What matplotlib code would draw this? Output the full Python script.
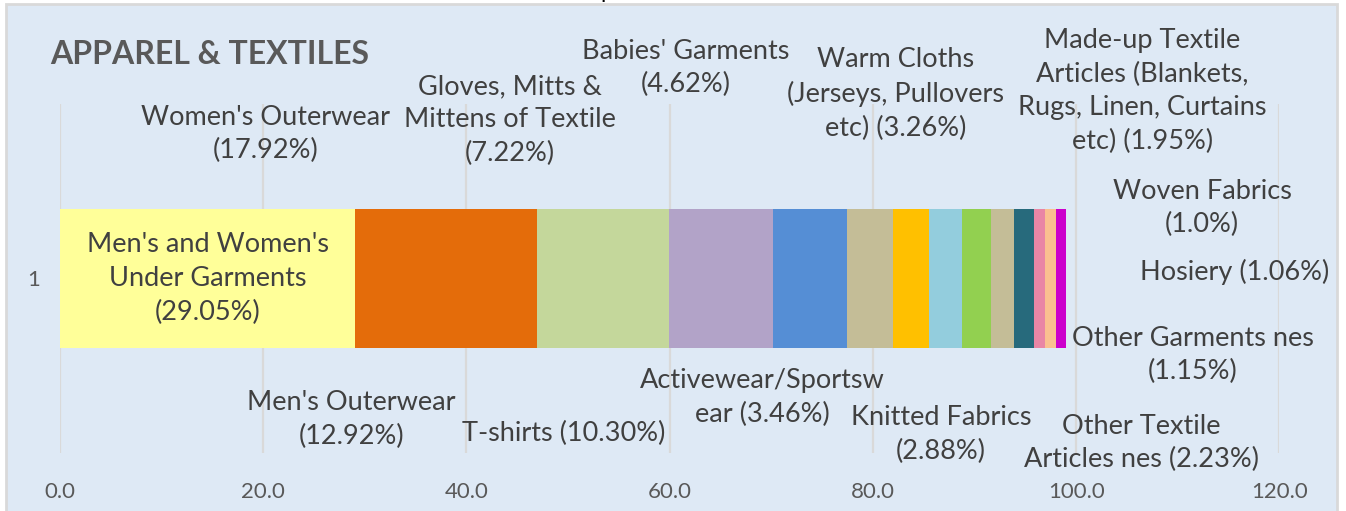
import matplotlib
matplotlib.use("Agg")
import matplotlib.pyplot as plt
from matplotlib.patches import Rectangle
from matplotlib.ticker import FuncFormatter

plt.rcParams['font.family'] = ['Lato', 'DejaVu Sans']

# Share of apparel & textile exports by product group (%)
categories = [
    "Men's and Women's\nUnder Garments",
    "Women's Outerwear",
    "Men's Outerwear",
    "T-shirts",
    "Gloves, Mitts &\nMittens of Textile",
    "Babies' Garments",
    "Activewear/Sportsw\near",
    "Warm Cloths\n(Jerseys, Pullovers\netc)",
    "Knitted Fabrics",
    "Other Textile\nArticles nes",
    "Made-up Textile\nArticles (Blankets,\nRugs, Linen, Curtains\netc)",
    "Other Garments nes",
    "Hosiery",
    "Woven Fabrics",
]
shares = [29.05, 17.92, 12.92, 10.30, 7.22, 4.62, 3.46, 3.26, 2.88, 2.23, 1.95, 1.15, 1.06, 1.0]
share_text = ["29.05", "17.92", "12.92", "10.30", "7.22", "4.62", "3.46", "3.26",
              "2.88", "2.23", "1.95", "1.15", "1.06", "1.0"]
series_name = "1"
x_ticks = [0, 20, 40, 60, 80, 100, 120]

colors = ["#FFFF99", "#E46C0A", "#C4D79B", "#B2A3C8", "#558ED5", "#C4BD97",
          "#FFC000", "#93CDDD", "#92D050", "#C4BD97", "#276A7C", "#E986A5",
          "#FAC090", "#CC00CC"]

# label placement: (x in data units or None = segment centre, y in axes fraction, separator)
label_layout = [
    (None, 0.50, "\n"),
    (20.2, 0.914, "\n"),
    (28.7, 0.095, "\n"),
    (49.6, 0.057, " "),
    (44.3, 0.954, "\n"),
    (61.6, 1.103, "\n"),
    (69.1, 0.158, " "),
    (82.2, 1.029, " "),
    (86.7, 0.054, "\n"),
    (106.4, 0.029, " "),
    (106.5, 1.037, " "),
    (111.5, 0.281, "\n"),
    (115.6, 0.519, " "),
    (112.4, 0.702, "\n"),
]

W, H = 1346, 511
fig = plt.figure(figsize=(W / 100, H / 100), dpi=100)
fig.patch.set_facecolor("white")

# chart area background with thin grey frame
bg = Rectangle((6 / W, -0.05), (1337 - 6) / W, 1.05 - 4 / H,
               transform=fig.transFigure, facecolor="#DEE9F5",
               edgecolor="#D9D9D9", linewidth=2, zorder=-10)
fig.patches.append(bg)

ax = fig.add_axes([60 / W, (H - 453) / H, (1279.3 - 60) / W, (453 - 104) / H])
ax.set_facecolor("none")

left = 0.0
for i, (val, col) in enumerate(zip(shares, colors)):
    ax.barh(series_name, val, left=left, height=0.40, color=col, edgecolor="none", zorder=2)
    left += val

ax.set_xlim(0, 120)
ax.set_ylim(-0.5, 0.5)
ax.set_xticks(x_ticks)
ax.xaxis.set_major_formatter(FuncFormatter(lambda v, p: f"{v:.1f}"))
ax.grid(axis="x", color="#D9D9D9", linewidth=1.6, zorder=0)
ax.set_axisbelow(True)
for s in ax.spines.values():
    s.set_visible(False)
ax.tick_params(axis="both", length=0, labelsize=16, labelcolor="#595959")
ax.tick_params(axis="x", pad=21)
ax.tick_params(axis="y", pad=14)

# data labels
left = 0.0
for name, val, txt, (lx, ly, sep) in zip(categories, shares, share_text, label_layout):
    x = left + val / 2 if lx is None else lx
    ax.text(x, ly, f"{name}{sep}({txt}%)", transform=ax.get_xaxis_transform(),
            ha="center", va="center", fontsize=19.5, color="#404040",
            linespacing=1.43, zorder=3, clip_on=False)
    left += val

fig.text(50 / W, 1 - 54 / H, "APPAREL & TEXTILES", fontsize=23, fontweight="bold",
         color="#595959", ha="left", va="center")
fig.text(600 / W, 1 + 2 / H, "p", fontsize=16, color="black", ha="left", va="baseline")

fig.savefig("out.png", dpi=100)
